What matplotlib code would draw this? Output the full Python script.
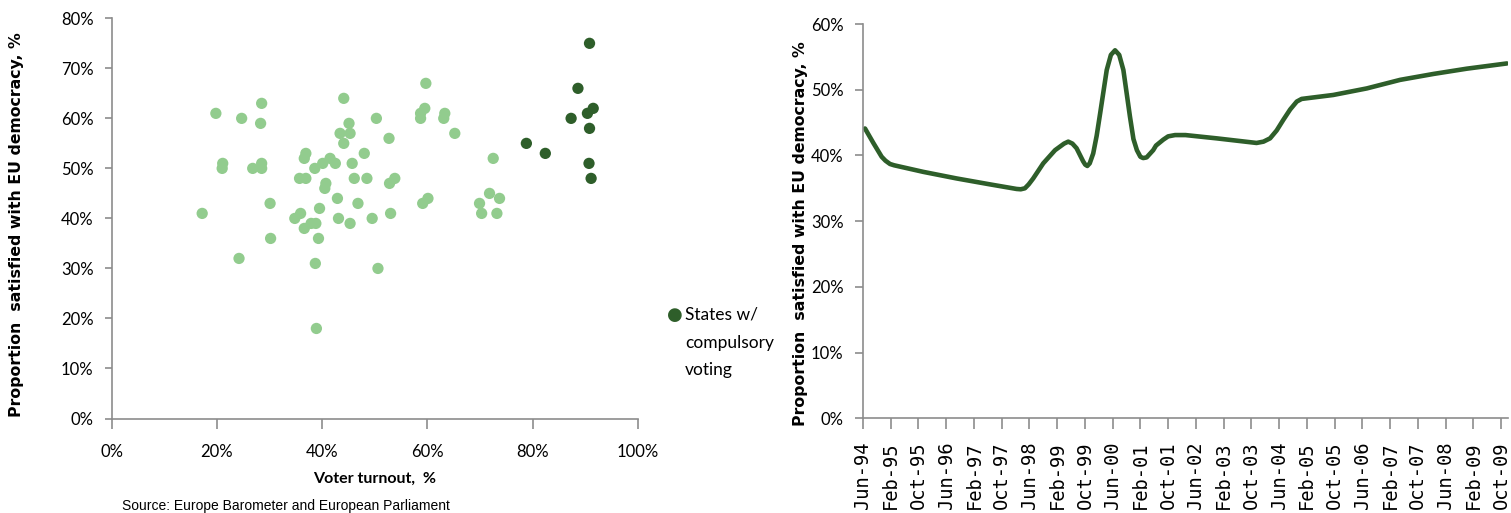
import matplotlib.pyplot as plt
from matplotlib.ticker import PercentFormatter, FixedLocator

#fonts: humanist narrow-ish one for ticks, bold sans for the y labels
plt.rcParams['font.family'] = ['Lato', 'DejaVu Sans']

#scatter data (voter turnout %, satisfied %)
turnout = [17.2, 19.8, 24.7, 28.5, 28.3, 21.1, 21.0, 26.8, 28.5, 28.5,
           30.1, 30.2, 35.7, 36.9, 36.9, 36.6, 38.6, 40.1, 41.5, 42.5,
           44.1, 45.1, 43.4, 45.3, 44.1, 50.3, 52.7, 48.0, 45.7, 46.1,
           48.5, 40.7, 40.5, 42.9, 46.8, 39.5, 35.9, 34.8, 43.1, 49.5,
           53.0, 45.3, 37.9, 38.8, 36.6, 39.3, 52.8, 53.8, 59.7, 59.5,
           58.7, 58.7, 63.3, 63.1, 65.2, 60.1, 59.1, 72.5, 71.8, 73.7,
           69.9, 70.3, 73.2, 24.2, 38.7, 50.6, 38.9]
satisfied = [41, 61, 60, 63, 59, 51, 50, 50, 51, 50,
             43, 36, 48, 48, 53, 52, 50, 51, 52, 51,
             64, 59, 57, 57, 55, 60, 56, 53, 51, 48,
             48, 47, 46, 44, 43, 42, 41, 40, 40, 40,
             41, 39, 39, 39, 38, 36, 47, 48, 67, 62,
             61, 60, 61, 60, 57, 44, 43, 52, 45, 44,
             43, 41, 41, 32, 31, 30, 18]

#states with compulsory voting
comp_turnout = [90.8, 88.6, 91.5, 90.4, 87.3, 90.8, 78.8, 82.4, 90.7, 91.1]
comp_satisfied = [75, 66, 62, 61, 60, 58, 55, 53, 51, 48]

#line data: months since Jun-94, satisfied %
line_month = [0.6, 3, 5.4, 6.5, 7.8, 9, 17.4, 27, 36.6, 44.3,
              45.5, 46.7, 47.8, 49.1, 52, 55.4, 58, 59.2, 60.4, 61.6,
              63.5, 64.1, 64.7, 65.4, 66.4, 67.4, 68.4, 70.3, 71.5, 72.7,
              73.9, 75.1, 77, 78, 79, 80, 80.8, 81.8, 83.7, 84.5,
              86.6, 88, 90, 93, 102, 113.5, 115.5, 117.4, 119.3, 121.2,
              123.2, 125.1, 126.5, 128, 135.6, 145.3, 154.9, 164.5, 174.1, 185.7]
line_value = [44.1, 41.9, 39.8, 39.2, 38.7, 38.5, 37.5, 36.5, 35.6, 34.9,
              34.85, 35.0, 35.6, 36.5, 38.8, 40.8, 41.8, 42.1, 41.8, 41.1,
              39.1, 38.6, 38.4, 38.8, 40.3, 43.0, 46.4, 53.0, 55.3, 56.0,
              55.3, 53.0, 45.9, 42.5, 40.8, 39.8, 39.6, 39.7, 40.8, 41.5,
              42.4, 42.9, 43.1, 43.1, 42.6, 41.9, 42.1, 42.6, 43.8, 45.4,
              47.0, 48.2, 48.6, 48.7, 49.2, 50.2, 51.5, 52.4, 53.2, 54.0]

date_labels = ['Jun-94', 'Feb-95', 'Oct-95', 'Jun-96', 'Feb-97', 'Oct-97',
               'Jun-98', 'Feb-99', 'Oct-99', 'Jun-00', 'Feb-01', 'Oct-01',
               'Jun-02', 'Feb-03', 'Oct-03', 'Jun-04', 'Feb-05', 'Oct-05',
               'Jun-06', 'Feb-07', 'Oct-07', 'Jun-08', 'Feb-09', 'Oct-09']

light = '#92CC8E'
dark = '#2E5E2A'
axis_gray = '#8C8C8C'
ylab = 'Proportion  satisfied with EU democracy, %'

fig = plt.figure(figsize=(15.11, 5.13), dpi=100)

#left chart: scatter
ax1 = fig.add_axes([0.0739, 0.1842, 0.3483, 0.7801])
ax1.scatter(turnout, satisfied, s=66, color=light, edgecolors='none', zorder=3)
ax1.scatter(comp_turnout, comp_satisfied, s=66, color=dark, edgecolors='none', zorder=4)
ax1.set_xlim(0, 100)
ax1.set_ylim(0, 80)
ax1.set_xticks(range(0, 101, 20))
ax1.set_yticks(range(0, 81, 10))
ax1.xaxis.set_major_formatter(PercentFormatter(decimals=0))
ax1.yaxis.set_major_formatter(PercentFormatter(decimals=0))
ax1.tick_params(axis='y', length=5, width=1.2, color=axis_gray, pad=8, labelsize=12)
ax1.tick_params(axis='x', length=7, width=1.2, color=axis_gray, pad=11, labelsize=12)
for side in ['top', 'right']:
    ax1.spines[side].set_visible(False)
for side in ['left', 'bottom']:
    ax1.spines[side].set_color(axis_gray)
    ax1.spines[side].set_linewidth(1.2)
ax1.set_xlabel('Voter turnout,  %', fontsize=11.5, fontweight='bold', labelpad=9)

#legend for the dark dots, drawn by hand like excel's
fig.text(0.4467, 1 - 315 / 513, '\u25CF', color=dark, fontsize=13,
         va='center', ha='center', family='DejaVu Sans')
fig.text(0.4534, 1 - 307 / 513, 'States w/\ncompulsory\nvoting', fontsize=12.5,
         va='top', ha='left', linespacing=1.9)

fig.text(0.0106, 1 - 225 / 513, ylab, rotation=90, fontsize=11.3, fontweight='bold',
         family='DejaVu Sans', va='center', ha='center')
fig.text(0.0807, 1 - 499 / 513, 'Source: Europe Barometer and European Parliament',
         fontsize=10, family='Liberation Sans', va='top', ha='left')

#right chart: line over time
ax2 = fig.add_axes([0.5711, 0.1846, 0.4269, 0.7686])
ax2.plot(line_month, line_value, color=dark, linewidth=3.3, solid_capstyle='round',
         solid_joinstyle='round')
ax2.set_xlim(0, 186)
ax2.set_ylim(0, 60)
ax2.set_yticks(range(0, 61, 10))
ax2.yaxis.set_major_formatter(PercentFormatter(decimals=0))
ax2.xaxis.set_major_locator(FixedLocator([8 * i for i in range(len(date_labels))]))
ax2.set_xticklabels(date_labels, rotation=90, family='DejaVu Sans Mono', fontsize=13.5)
ax2.tick_params(axis='y', length=6, width=1.2, color=axis_gray, pad=8, labelsize=12)
ax2.tick_params(axis='x', length=8, width=1.2, color=axis_gray, pad=9)
for side in ['top', 'right']:
    ax2.spines[side].set_visible(False)
for side in ['left', 'bottom']:
    ax2.spines[side].set_color(axis_gray)
    ax2.spines[side].set_linewidth(1.2)

fig.text(0.5298, 1 - 234 / 513, ylab, rotation=90, fontsize=11.3, fontweight='bold',
         family='DejaVu Sans', va='center', ha='center')

fig.savefig('out.png', dpi=100)
